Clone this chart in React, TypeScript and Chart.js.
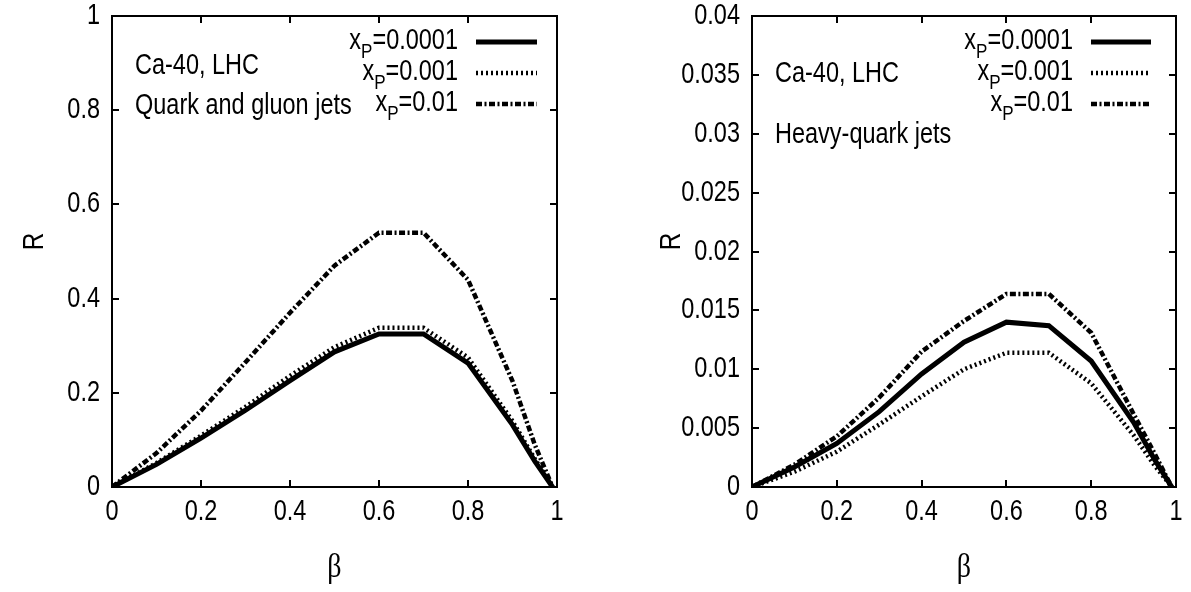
import React, { useEffect, useRef } from "react";
import { Chart, registerables } from "chart.js";

Chart.register(...registerables);

// ---------------- data ----------------
const BETA = [0, 0.1, 0.2, 0.3, 0.4, 0.5, 0.6, 0.7, 0.8, 0.9, 0.95, 0.99];
const XP_VALUES = ["0.0001", "0.001", "0.01"];

// Left panel: quark and gluon jets
const QG_XP0001 = [0, 0.048, 0.104, 0.163, 0.226, 0.287, 0.325, 0.325, 0.263, 0.132, 0.055, 0];
const QG_XP001 = [0, 0.051, 0.109, 0.170, 0.236, 0.297, 0.338, 0.338, 0.275, 0.140, 0.060, 0];
const QG_XP01 = [0, 0.072, 0.162, 0.265, 0.370, 0.470, 0.540, 0.540, 0.440, 0.225, 0.090, 0];

// Right panel: heavy-quark jets
const HQ_XP0001 = [0, 0.0017, 0.0037, 0.0064, 0.0096, 0.0123, 0.0140, 0.0137, 0.0107, 0.0055, 0.0023, 0];
const HQ_XP001 = [0, 0.0013, 0.0030, 0.0053, 0.0077, 0.0100, 0.0114, 0.0114, 0.0088, 0.0044, 0.0018, 0];
const HQ_XP01 = [0, 0.0019, 0.0043, 0.0076, 0.0115, 0.0141, 0.0164, 0.0164, 0.0131, 0.0062, 0.0028, 0];

const X_TICKS = [0, 0.2, 0.4, 0.6, 0.8, 1];
const X_LABELS = ["0", "0.2", "0.4", "0.6", "0.8", "1"];
const LEFT_Y_TICKS = [0, 0.2, 0.4, 0.6, 0.8, 1];
const LEFT_Y_LABELS = ["0", "0.2", "0.4", "0.6", "0.8", "1"];
const RIGHT_Y_TICKS = [0, 0.005, 0.01, 0.015, 0.02, 0.025, 0.03, 0.035, 0.04];
const RIGHT_Y_LABELS = ["0", "0.005", "0.01", "0.015", "0.02", "0.025", "0.03", "0.035", "0.04"];

const LEFT_NOTES = ["Ca-40, LHC", "Quark and gluon jets"];
const RIGHT_NOTES = ["Ca-40, LHC", "Heavy-quark jets"];
const X_TITLE = "β";
const Y_TITLE = "R";

// ---------------- styles ----------------
const SANS = '"Liberation Sans", Arial, sans-serif';
const SERIF = '"Liberation Serif", "DejaVu Serif", serif';
const SIZE = 29;
const SX = 0.81; // horizontal compression -> narrow Helvetica look
const STYLES = [
  { width: 5, dash: [] as number[] },
  { width: 4.5, dash: [2, 3] },
  { width: 4.5, dash: [6, 2.5, 2, 2.5] },
];

function txt(
  ctx: CanvasRenderingContext2D,
  s: string,
  x: number,
  y: number,
  o: { size?: number; align?: CanvasTextAlign; baseline?: CanvasTextBaseline; sx?: number; family?: string; rot?: number } = {}
) {
  ctx.save();
  ctx.translate(x, y);
  if (o.rot) ctx.rotate(o.rot);
  ctx.scale(o.sx ?? SX, 1);
  ctx.font = `${o.size ?? SIZE}px ${o.family ?? SANS}`;
  ctx.textAlign = o.align ?? "left";
  ctx.textBaseline = o.baseline ?? "alphabetic";
  ctx.fillStyle = "#000";
  ctx.fillText(s, 0, 0);
  ctx.restore();
}

function measure(ctx: CanvasRenderingContext2D, s: string, size: number) {
  ctx.save();
  ctx.font = `${size}px ${SANS}`;
  const w = ctx.measureText(s).width * SX;
  ctx.restore();
  return w;
}

const framePlugin = {
  id: "frame",
  afterDraw(chart: any) {
    const { ctx, chartArea: a, scales } = chart;
    ctx.save();
    ctx.strokeStyle = "#000";
    ctx.lineWidth = 2;
    ctx.strokeRect(a.left, a.top, a.right - a.left, a.bottom - a.top);
    const L = 7;
    ctx.beginPath();
    scales.x.ticks.forEach((t: any) => {
      const px = Math.round(scales.x.getPixelForValue(t.value));
      ctx.moveTo(px, a.bottom);
      ctx.lineTo(px, a.bottom - L);
      ctx.moveTo(px, a.top);
      ctx.lineTo(px, a.top + L);
    });
    scales.y.ticks.forEach((t: any) => {
      const py = Math.round(scales.y.getPixelForValue(t.value));
      ctx.moveTo(a.left, py);
      ctx.lineTo(a.left + L, py);
      ctx.moveTo(a.right, py);
      ctx.lineTo(a.right - L, py);
    });
    ctx.stroke();
    ctx.restore();
  },
};

const axisTextPlugin = {
  id: "axisText",
  afterDraw(chart: any, _args: any, opts: any) {
    const { ctx, chartArea: a, scales } = chart;
    scales.x.ticks.forEach((t: any, i: number) => {
      txt(ctx, X_LABELS[i], scales.x.getPixelForValue(t.value), a.bottom + 25, { align: "center", baseline: "middle" });
    });
    scales.y.ticks.forEach((t: any, i: number) => {
      txt(ctx, opts.yLabels[i], a.left - 12, scales.y.getPixelForValue(t.value), { align: "right", baseline: "middle" });
    });
    txt(ctx, X_TITLE, (a.left + a.right) / 2, opts.betaY, {
      align: "center",
      baseline: "middle",
      family: SERIF,
      size: 33,
      sx: 0.85,
    });
    txt(ctx, Y_TITLE, opts.rX, (a.top + a.bottom) / 2 - 10, {
      align: "center",
      baseline: "middle",
      rot: -Math.PI / 2,
      size: 30,
    });
  },
};

const legendPlugin = {
  id: "xpLegend",
  afterDraw(chart: any, _args: any, opts: any) {
    const { ctx, chartArea: a } = chart;
    chart.data.datasets.forEach((ds: any, i: number) => {
      const lineY = opts.firstY + i * opts.rowGap;
      const base = lineY + 6.5;
      const textRight = a.right - opts.textFromRight;
      const w1 = measure(ctx, "x", SIZE);
      const w2 = measure(ctx, "P", 21);
      const w3 = measure(ctx, "=" + ds.label, SIZE);
      let x = textRight - (w1 + w2 + w3);
      txt(ctx, "x", x, base);
      x += w1;
      txt(ctx, "P", x, base + 9, { size: 21 });
      x += w2;
      txt(ctx, "=" + ds.label, x, base);
      ctx.save();
      ctx.beginPath();
      ctx.strokeStyle = "#000";
      ctx.lineWidth = ds.borderWidth;
      ctx.setLineDash(ds.borderDash || []);
      ctx.moveTo(a.right - opts.lineFromRight[0], lineY);
      ctx.lineTo(a.right - opts.lineFromRight[1], lineY);
      ctx.stroke();
      ctx.restore();
    });
  },
};

const notesPlugin = {
  id: "notes",
  afterDraw(chart: any, _args: any, opts: any) {
    const { ctx, chartArea: a } = chart;
    opts.items.forEach((t: string, i: number) => {
      txt(ctx, t, a.left + opts.dx, opts.baselines[i]);
    });
  },
};

function makeConfig(p: any) {
  return {
    type: "line",
    data: {
      datasets: p.series.map((vals: number[], i: number) => ({
        label: XP_VALUES[i],
        data: BETA.map((b, j) => ({ x: b, y: vals[j] })),
        borderColor: "#000",
        backgroundColor: "#000",
        borderWidth: STYLES[i].width,
        borderDash: STYLES[i].dash,
        pointRadius: 0,
        fill: false,
        tension: 0,
      })),
    },
    options: {
      responsive: false,
      animation: false,
      layout: { padding: { left: 0, top: 16, right: p.padRight, bottom: 0 } },
      plugins: {
        legend: { display: false },
        tooltip: { enabled: false },
        xpLegend: p.legend,
        notes: p.notes,
        axisText: { yLabels: p.yLabels, betaY: 568, rX: p.rX },
      },
      scales: {
        x: {
          type: "linear",
          min: 0,
          max: 1,
          afterFit: (s: any) => {
            s.height = 105;
          },
          afterBuildTicks: (s: any) => {
            s.ticks = X_TICKS.map((v) => ({ value: v }));
          },
          ticks: { display: false, autoSkip: false },
          grid: { display: false, drawTicks: false },
          border: { display: false },
        },
        y: {
          type: "linear",
          min: 0,
          max: p.yMax,
          afterFit: (s: any) => {
            s.width = p.yWidth;
          },
          afterBuildTicks: (s: any) => {
            s.ticks = p.yTicks.map((v: number) => ({ value: v }));
          },
          ticks: { display: false, autoSkip: false },
          grid: { display: false, drawTicks: false },
          border: { display: false },
        },
      },
    },
    plugins: [framePlugin, axisTextPlugin, legendPlugin, notesPlugin],
  };
}

function Panel(props: { cfg: any; left: number; width: number }) {
  const ref = useRef<HTMLCanvasElement | null>(null);
  useEffect(() => {
    if (!ref.current) return;
    const chart = new Chart(ref.current, props.cfg);
    return () => chart.destroy();
  }, []);
  return (
    <canvas
      ref={ref}
      width={props.width}
      height={592}
      style={{ position: "absolute", left: props.left, top: 0, width: props.width, height: 592 }}
    />
  );
}

export default function App() {
  const leftCfg = makeConfig({
    series: [QG_XP0001, QG_XP001, QG_XP01],
    padRight: 38,
    yWidth: 112,
    yMax: 1,
    yTicks: LEFT_Y_TICKS,
    yLabels: LEFT_Y_LABELS,
    rX: 35,
    legend: { firstY: 42, rowGap: 31, textFromRight: 99, lineFromRight: [81, 20] },
    notes: { items: LEFT_NOTES, dx: 23, baselines: [74, 114] },
  });
  const rightCfg = makeConfig({
    series: [HQ_XP0001, HQ_XP001, HQ_XP01],
    padRight: 15,
    yWidth: 157,
    yMax: 0.04,
    yTicks: RIGHT_Y_TICKS,
    yLabels: RIGHT_Y_LABELS,
    rX: 77,
    legend: { firstY: 42, rowGap: 31, textFromRight: 103, lineFromRight: [85, 25] },
    notes: { items: RIGHT_NOTES, dx: 23, baselines: [82, 143] },
  });
  return (
    <div style={{ position: "fixed", left: 0, top: 0, width: 1191, height: 592, background: "#fff" }}>
      <Panel cfg={leftCfg} left={0} width={595} />
      <Panel cfg={rightCfg} left={595} width={596} />
    </div>
  );
}
